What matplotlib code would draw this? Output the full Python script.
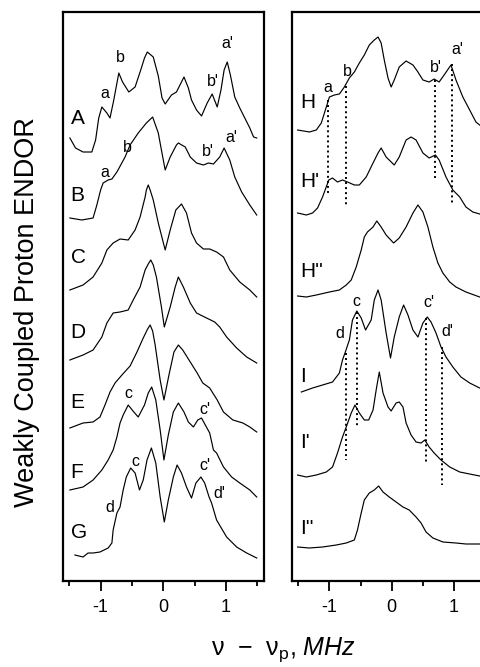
import numpy as np
import matplotlib
matplotlib.use("Agg")
import matplotlib.pyplot as plt

plt.rcParams['font.family'] = ['Liberation Sans', 'DejaVu Sans']
plt.rcParams['axes.unicode_minus'] = False
plt.rcParams['mathtext.fontset'] = 'custom'
plt.rcParams['mathtext.rm'] = 'Liberation Sans'
plt.rcParams['mathtext.it'] = 'Liberation Sans:italic'

# ---- left panel spectra (x in MHz, intensity in arbitrary units) ----
A_x = [-1.49, -1.40, -1.28, -1.14, -1.08, -1.03, -0.98, -0.90, -0.85, -0.79, -0.71, -0.65, -0.55, -0.45,
       -0.36, -0.30, -0.255, -0.16, -0.08, -0.02, 0.03, 0.13, 0.21, 0.33, 0.40, 0.45, 0.53, 0.61, 0.70,
       0.78, 0.86, 0.92, 0.97, 1.02, 1.07, 1.14, 1.22, 1.30, 1.38, 1.44, 1.49]
A_y = [0, -10, -14, -14, -2, 20, 31, 25, 20, 38, 65, 56, 46, 51, 68, 80, 86, 81, 62, 40, 34, 43, 46, 61,
       50, 38, 28, 22, 35, 44, 31, 48, 68, 76, 63, 41, 30, 20, 10, 1, 0]

B_x = [-1.49, -1.30, -1.12, -1.06, -1.00, -0.96, -0.88, -0.82, -0.74, -0.61, -0.53, -0.40, -0.27, -0.17,
       -0.08, -0.03, 0.03, 0.11, 0.21, 0.24, 0.35, 0.43, 0.53, 0.64, 0.72, 0.80, 0.90, 0.97, 1.06, 1.14,
       1.25, 1.38, 1.49]
B_y = [0, -2, 0, 13, 28, 35, 38, 39, 46, 61, 73, 85, 95, 101, 85, 68, 48, 61, 73, 75, 71, 61, 55, 53, 55,
       54, 61, 70, 58, 41, 26, 13, 3]

C_x = [-1.49, -1.28, -1.12, -0.98, -0.90, -0.80, -0.69, -0.56, -0.45, -0.37, -0.29, -0.27, -0.24, -0.21,
       -0.16, -0.08, 0.03, 0.11, 0.20, 0.29, 0.37, 0.45, 0.53, 0.64, 0.74, 0.85, 0.96, 1.06, 1.22, 1.38, 1.49]
C_y = [0, 5, 13, 27, 40, 47, 51, 50, 60, 73, 93, 100, 105, 100, 90, 67, 40, 60, 80, 86, 77, 57, 47, 41,
       41, 38, 33, 20, 8, 0, -7]

D_x = [-1.49, -1.28, -1.12, -0.98, -0.90, -0.80, -0.69, -0.56, -0.48, -0.37, -0.29, -0.24, -0.20, -0.16,
       -0.11, -0.03, 0.016, 0.11, 0.19, 0.24, 0.32, 0.43, 0.53, 0.69, 0.82, 0.90, 1.01, 1.17, 1.33, 1.49]
D_y = [0, 5, 10, 23, 37, 47, 48, 50, 60, 73, 90, 96, 100, 95, 83, 53, 33, 53, 73, 83, 73, 57, 47, 42, 38,
       33, 23, 12, 3, -3]

E_x = [-1.49, -1.28, -1.12, -1.01, -0.93, -0.85, -0.77, -0.66, -0.53, -0.42, -0.32, -0.25, -0.21, -0.17,
       -0.13, -0.05, 0.01, 0.09, 0.17, 0.24, 0.31, 0.43, 0.54, 0.63, 0.74, 0.86, 0.96, 1.11, 1.27, 1.38, 1.49]
E_y = [0, 5, 6, 11, 23, 36, 45, 53, 62, 76, 90, 99, 103, 97, 83, 48, 28, 53, 76, 83, 78, 66, 55, 45, 40,
       28, 16, 8, 5, 1, -4]

F_x = [-1.49, -1.28, -1.12, -0.98, -0.88, -0.80, -0.74, -0.69, -0.64, -0.56, -0.47, -0.40, -0.30, -0.24,
       -0.185, -0.12, -0.05, 0.01, 0.08, 0.16, 0.24, 0.33, 0.40, 0.48, 0.55, 0.61, 0.67, 0.74, 0.80, 0.85,
       0.96, 1.09, 1.22, 1.38, 1.49]
F_y = [0, 3, 10, 20, 30, 40, 53, 67, 75, 85, 78, 73, 85, 97, 103, 90, 60, 30, 55, 78, 87, 78, 68, 63, 70,
       72, 65, 57, 40, 37, 23, 13, 7, 0, -7]

G_x = [-1.41, -1.28, -1.20, -1.12, -1.01, -0.88, -0.82, -0.80, -0.74, -0.69, -0.64, -0.59, -0.52, -0.45,
       -0.38, -0.32, -0.26, -0.19, -0.12, -0.05, 0.016, 0.08, 0.16, 0.22, 0.29, 0.37, 0.45, 0.52, 0.60,
       0.66, 0.73, 0.77, 0.85, 1.01, 1.17, 1.33, 1.49]
G_y = [0, -2, 2, 2, 3, 7, 12, 25, 42, 48, 65, 78, 87, 82, 65, 75, 95, 107, 92, 58, 33, 55, 78, 90, 82,
       68, 57, 72, 78, 72, 58, 52, 35, 18, 8, 2, -3]

# ---- right panel spectra ----
H_x = [-1.51, -1.32, -1.21, -1.13, -1.05, -1.00, -0.92, -0.84, -0.76, -0.68, -0.60, -0.52, -0.44, -0.36,
       -0.28, -0.22, -0.17, -0.12, -0.06, -0.01, 0.04, 0.12, 0.23, 0.34, 0.42, 0.50, 0.60, 0.68, 0.76,
       0.84, 0.95, 1.03, 1.14, 1.25, 1.35, 1.41, 1.50]
H_y = [0, -2, 0, 7, 23, 33, 35, 36, 43, 52, 58, 67, 75, 85, 90, 93, 87, 70, 52, 43, 50, 63, 69, 65, 58,
       50, 48, 51, 48, 55, 65, 50, 33, 20, 8, 5, 1]

H1_x = [-1.51, -1.37, -1.27, -1.19, -1.11, -1.01, -0.95, -0.87, -0.79, -0.71, -0.60, -0.52, -0.41, -0.30,
        -0.22, -0.17, -0.09, 0.04, 0.12, 0.23, 0.31, 0.39, 0.50, 0.60, 0.70, 0.76, 0.87, 0.98, 1.09, 1.19,
        1.30, 1.41, 1.50]
H1_y = [0, -2, 0, 5, 16, 33, 35, 31, 33, 31, 28, 28, 36, 50, 60, 65, 56, 48, 56, 73, 76, 73, 60, 55, 58,
        53, 36, 23, 16, 6, 1, -1, -2]

H2_x = [-1.51, -1.37, -1.21, -1.00, -0.84, -0.73, -0.65, -0.57, -0.49, -0.44, -0.39, -0.30, -0.24, -0.17,
        -0.09, 0.03, 0.12, 0.23, 0.34, 0.42, 0.50, 0.58, 0.66, 0.74, 0.82, 0.93, 1.03, 1.19, 1.41, 1.50]
H2_y = [0, -1, 1, 4, 6, 11, 16, 29, 46, 59, 64, 69, 75, 69, 61, 53, 58, 69, 83, 91, 84, 69, 49, 33, 23,
        14, 9, 4, -1, -2]

I_x = [-1.45, -1.27, -1.11, -0.95, -0.84, -0.79, -0.75, -0.68, -0.63, -0.56, -0.49, -0.42, -0.33, -0.28,
       -0.22, -0.17, -0.09, -0.02, 0.04, 0.12, 0.19, 0.26, 0.34, 0.42, 0.50, 0.57, 0.63, 0.71, 0.79, 0.87,
       0.98, 1.11, 1.25, 1.41, 1.50]
I_y = [-2, 2, 5, 8, 17, 30, 37, 50, 70, 79, 72, 60, 70, 90, 100, 90, 57, 32, 53, 73, 85, 75, 60, 53, 67,
       73, 68, 57, 43, 33, 23, 13, 7, 2, 0]

I1_x = [-1.51, -1.37, -1.21, -1.05, -0.95, -0.87, -0.79, -0.73, -0.65, -0.59, -0.52, -0.44, -0.37, -0.30,
        -0.25, -0.20, -0.14, -0.06, -0.01, 0.07, 0.12, 0.18, 0.23, 0.31, 0.39, 0.47, 0.53, 0.60, 0.68,
        0.79, 0.93, 1.09, 1.25, 1.41, 1.50]
I1_y = [0, -2, 0, 3, 8, 22, 38, 48, 62, 70, 62, 55, 55, 65, 85, 103, 82, 68, 64, 72, 73, 68, 52, 40, 33,
        32, 35, 28, 22, 15, 8, 3, 1, -1, -1]

I2_x = [-1.51, -1.32, -1.11, -0.89, -0.73, -0.60, -0.55, -0.49, -0.44, -0.36, -0.28, -0.21, -0.14, -0.04,
        0.07, 0.18, 0.28, 0.39, 0.47, 0.55, 0.66, 0.82, 1.03, 1.19, 1.41, 1.50]
I2_y = [0, -1, 0, 2, 4, 7, 17, 34, 47, 54, 57, 61, 55, 50, 45, 40, 37, 30, 24, 15, 9, 5, 4, 3, 3, 2]

left_names = ['A', 'B', 'C', 'D', 'E', 'F', 'G']
left_traces = [(A_x, A_y), (B_x, B_y), (C_x, C_y), (D_x, D_y), (E_x, E_y), (F_x, F_y), (G_x, G_y)]
left_offsets = [443, 363, 291, 221, 153, 91, 26]
left_label_y = [463, 386, 324, 249, 178, 109, 48]

right_names = ['H', "H'", "H''", 'I', "I'", "I''"]
right_traces = [(H_x, H_y), (H1_x, H1_y), (H2_x, H2_y), (I_x, I_y), (I1_x, I1_y), (I2_x, I2_y)]
right_offsets = [451, 368, 285, 191, 106, 34]
right_label_y = [479, 400, 310, 205, 138, 53]

# peak letters: (text, x, y)
left_marks = [('a', -0.93, 488), ('b', -0.69, 524), ("b'", 0.785, 500), ("a'", 1.02, 538),
              ('a', -0.93, 409), ('b', -0.58, 434), ("b'", 0.71, 430), ("a'", 1.08, 444),
              ('c', -0.56, 187), ("c'", 0.665, 171),
              ('c', -0.45, 119), ("c'", 0.665, 115), ("d'", 0.89, 88), ('d', -0.85, 74)]
right_marks = [('a', -1.03, 494), ('b', -0.71, 510), ("b'", 0.71, 514), ("a'", 1.05, 532),
               ('c', -0.57, 280), ('d', -0.84, 247), ("c'", 0.59, 279), ("d'", 0.89, 249)]

# dotted guides in right panel: peak position, y from, y to
guide_x = [-1.02, -0.74, 0.70, 0.96, -0.74, -0.55, 0.55, 0.80]
guide_y0 = [481, 495, 501, 517, 228, 269, 263, 234]
guide_y1 = [386, 376, 403, 378, 121, 153, 119, 96]

fig = plt.figure(figsize=(4.8, 6.67), dpi=100)
ax1 = fig.add_axes([63 / 480, 86 / 667, 200.6 / 480, 569 / 667])
ax2 = fig.add_axes([292 / 480, 86 / 667, 199.5 / 480, 569 / 667])


def setup(ax):
    ax.set_xlim(-1.6, 1.6)
    ax.set_ylim(0, 569)
    ax.set_yticks([])
    ax.set_xticks([-1, 0, 1])
    ax.set_xticks([-1.5, -0.5, 0.5, 1.5], minor=True)
    ax.tick_params(axis='x', which='major', direction='out', length=7, width=1.3,
                   labelsize=13, pad=6)
    ax.tick_params(axis='x', which='minor', direction='out', length=3.5, width=1.3)
    for s in ax.spines.values():
        s.set_linewidth(1.6)


setup(ax1)
setup(ax2)

for (x, y), off, name, ly in zip(left_traces, left_offsets, left_names, left_label_y):
    ax1.plot(x, off + np.array(y), color='black', lw=0.85)
    ax1.text(-1.48, ly, name, fontsize=15, ha='left', va='center')

for (x, y), off, name, ly in zip(right_traces, right_offsets, right_names, right_label_y):
    ax2.plot(x, off + np.array(y), color='black', lw=0.85)
    ax2.text(-1.47, ly, name, fontsize=15, ha='left', va='center')

for t, x, y in left_marks:
    ax1.text(x, y, t, fontsize=11.5, ha='center', va='center')
for t, x, y in right_marks:
    ax2.text(x, y, t, fontsize=11.5, ha='center', va='center')

for gx, g0, g1 in zip(guide_x, guide_y0, guide_y1):
    ax2.plot([gx, gx], [g0, g1], color='black', lw=1.4, linestyle=(0, (1, 1.6)))

fig.text(27 / 480, 1 - 312 / 667, 'Weakly Coupled Proton ENDOR', rotation=90,
         fontsize=19.5, ha='center', va='center')
fig.text(283 / 480, 1 - 650 / 667, 'ν  −  ν$_\\mathrm{p}$, $\\mathit{MHz}$',
         fontsize=18, ha='center', va='center')

fig.savefig('out.png', dpi=100)
